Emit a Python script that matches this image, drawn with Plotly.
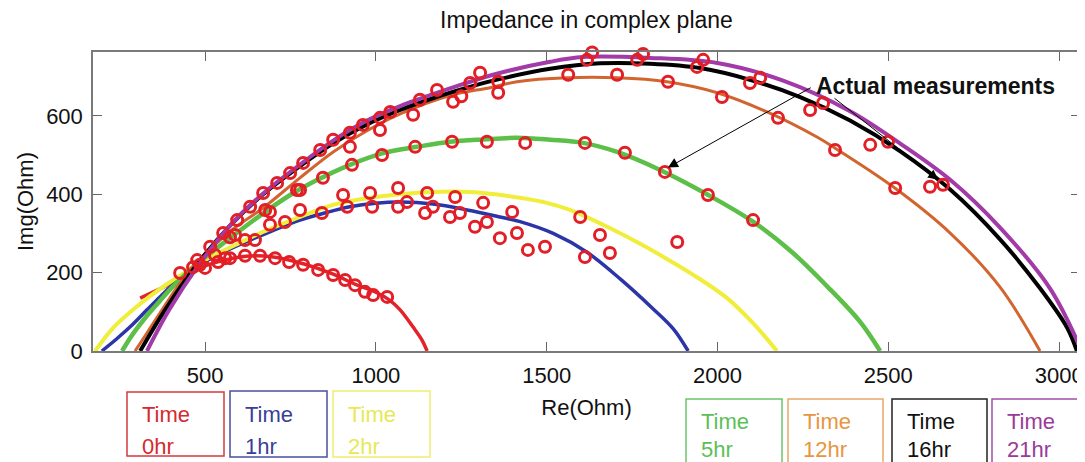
import plotly.graph_objects as go

# ---------------- data ----------------
x_ticks = [500, 1000, 1500, 2000, 2500, 3000]
y_ticks = [0, 200, 400, 600]

series_labels = ["0hr", "1hr", "2hr", "5hr", "12hr", "16hr", "21hr"]

# fitted curves (Re, Img) per series
fit_0hr_re = [310, 390, 465, 540, 620, 700, 790, 875, 940, 1000, 1040, 1071, 1109, 1135, 1150]
fit_0hr_img = [135, 168, 205, 228, 242, 240, 222, 196, 170, 150, 130, 105, 61, 28, 0]

fit_1hr_re = [198, 240, 280, 330, 368, 420, 485, 560, 632, 700, 778, 850, 924, 1000, 1071, 1167,
              1267, 1363, 1422, 1519, 1618, 1715, 1811, 1870, 1914]
fit_1hr_img = [0, 30, 61, 105, 138, 180, 220, 255, 283, 308, 334, 352, 368, 377, 380, 375,
               360, 342, 330, 300, 252, 184, 108, 57, 0]

fit_2hr_re = [178, 231, 289, 339, 398, 440, 485, 540, 602, 660, 720, 800, 875, 974, 1070, 1167,
              1276, 1350, 1422, 1500, 1568, 1665, 1764, 1832, 1928, 2028, 2104, 2174]
fit_2hr_img = [0, 59, 105, 140, 176, 200, 225, 250, 276, 300, 322, 350, 373, 390, 400, 406,
               406, 400, 391, 378, 360, 322, 278, 245, 195, 135, 71, 0]

fit_5hr_re = [257, 290, 330, 365, 406, 480, 573, 660, 749, 816, 924, 1021, 1121, 1217, 1314, 1413,
              1510, 1606, 1706, 1832, 1969, 2104, 2221, 2321, 2417, 2476]
fit_5hr_img = [0, 45, 90, 125, 165, 225, 288, 345, 398, 431, 475, 505, 521, 534, 540, 544,
               539, 531, 508, 462, 400, 330, 250, 165, 75, 0]

fit_12hr_re = [295, 330, 368, 456, 573, 670, 775, 875, 974, 1071, 1217, 1334, 1413, 1560, 1706,
               1852, 1999, 2145, 2291, 2338, 2514, 2681, 2827, 2944]
fit_12hr_img = [0, 46, 97, 207, 305, 365, 440, 508, 562, 605, 652, 672, 687, 697, 697,
                687, 659, 610, 546, 521, 419, 301, 163, 0]

fit_16hr_re = [310, 383, 471, 573, 670, 775, 875, 974, 1071, 1167, 1267, 1343, 1510, 1656, 1803,
               1949, 2095, 2242, 2388, 2534, 2681, 2827, 2944, 3023, 3052]
fit_16hr_img = [0, 105, 215, 320, 400, 470, 530, 578, 615, 645, 672, 690, 720, 734, 733,
                722, 692, 648, 588, 510, 412, 285, 160, 60, 0]

fit_21hr_re = [330, 395, 480, 575, 670, 775, 875, 974, 1071, 1217, 1343, 1510, 1606, 1803, 1999,
               2192, 2388, 2534, 2681, 2827, 2973, 3061]
fit_21hr_img = [0, 105, 218, 322, 402, 474, 537, 588, 625, 670, 705, 738, 750, 748, 735,
                690, 612, 530, 437, 315, 160, 10]

# actual measurements (Re, Img) per series
meas_0hr_re = [465, 500, 538, 573, 617, 661, 705, 746, 787, 831, 875, 910, 939, 968, 992, 1033]
meas_0hr_img = [214, 212, 227, 237, 243, 243, 237, 227, 220, 207, 194, 181, 168, 151, 143, 138]

meas_1hr_re = [559, 646, 734, 842, 916, 989, 1065, 1091, 1144, 1167, 1217, 1246, 1290, 1325,
               1363, 1413, 1445, 1495, 1612]
meas_1hr_img = [237, 283, 329, 352, 368, 368, 368, 380, 352, 368, 342, 352, 317, 329,
                288, 301, 258, 266, 240]

meas_2hr_re = [529, 617, 690, 778, 904, 983, 1065, 1150, 1232, 1314, 1399, 1598, 1656, 1685, 1882]
meas_2hr_img = [245, 283, 322, 360, 398, 403, 416, 403, 393, 378, 355, 342, 296, 250, 278]

meas_5hr_re = [573, 690, 778, 845, 930, 1018, 1115, 1223, 1325, 1437, 1612, 1729, 1846, 1972, 2104]
meas_5hr_img = [290, 355, 411, 442, 475, 500, 521, 534, 534, 531, 531, 506, 457, 398, 334]

meas_12hr_re = [485, 588, 676, 769, 924, 1012, 1109, 1226, 1358, 1563, 1706, 1855, 2013, 2177, 2344, 2520]
meas_12hr_img = [220, 296, 360, 411, 521, 564, 603, 636, 659, 705, 705, 687, 648, 595, 513, 416]

meas_16hr_re = [427, 515, 594, 670, 749, 837, 924, 1012, 1129, 1276, 1250, 1618, 1765, 1940, 2095,
                2271, 2447, 2622]
meas_16hr_img = [199, 266, 334, 403, 454, 513, 557, 595, 641, 684, 650, 743, 743, 725, 684,
                 615, 526, 419]

meas_21hr_re = [477, 553, 632, 711, 787, 875, 962, 1042, 1179, 1305, 1358, 1633, 1782, 1958, 2125,
                2309, 2499, 2660]
meas_21hr_img = [232, 301, 368, 429, 480, 539, 577, 610, 666, 710, 687, 762, 758, 743, 697,
                 633, 534, 424]

# annotation arrows: (tip Re, tip Img, tail Re, tail Img)
arrow_tips_re = [1855, 2646]
arrow_tips_img = [468, 437]
arrow_tails_re = [2277, 2338]
arrow_tails_img = [674, 648]

# ---------------- styling ----------------
FONT = "Liberation Sans, Arial, sans-serif"
line_colors = ["#e3232a", "#2b35a8", "#f0ee3a", "#5cbf48", "#d2652f", "#000000", "#a23aa8"]
text_colors = ["#d42a2e", "#3a3f96", "#e8e855", "#5cbf55", "#e6963e", "#111111", "#9a3a9a"]
box_colors = ["#d43a3e", "#4a4fa0", "#eeee70", "#6cc46a", "#e8a868", "#222222", "#a050a8"]
line_widths = [3.5, 3.5, 4, 4.5, 3, 4, 4]
marker_red = "#e21e26"

fits = [
    (fit_0hr_re, fit_0hr_img), (fit_1hr_re, fit_1hr_img), (fit_2hr_re, fit_2hr_img),
    (fit_5hr_re, fit_5hr_img), (fit_12hr_re, fit_12hr_img), (fit_16hr_re, fit_16hr_img),
    (fit_21hr_re, fit_21hr_img),
]
meas = [
    (meas_0hr_re, meas_0hr_img), (meas_1hr_re, meas_1hr_img), (meas_2hr_re, meas_2hr_img),
    (meas_5hr_re, meas_5hr_img), (meas_12hr_re, meas_12hr_img), (meas_16hr_re, meas_16hr_img),
    (meas_21hr_re, meas_21hr_img),
]

fig = go.Figure()

for i, (xr, yi) in enumerate(fits):
    fig.add_trace(go.Scatter(
        x=xr, y=yi, mode="lines", name="Time " + series_labels[i],
        line=dict(color=line_colors[i], width=line_widths[i], shape="spline", smoothing=1.0),
        hoverinfo="skip", showlegend=False,
    ))

for i, (xr, yi) in enumerate(meas):
    fig.add_trace(go.Scatter(
        x=xr, y=yi, mode="markers", name="meas " + series_labels[i],
        marker=dict(symbol="circle-open", size=11, color=marker_red, line=dict(width=3, color=marker_red)),
        cliponaxis=False, showlegend=False,
    ))

# The page body has an 8px margin, so the figure is drawn 8px right/down of the window corner.
OFF = 8
PIC_W, PIC_H = 1085, 462
W, H = PIC_W - OFF, PIC_H - OFF
# plot-area position in picture pixels (for layout decorations only)
L, R, T, B = 93, 1080, 52, 351


def px(xp):
    return (xp - L) / (R - L)


def py(yp):
    return (B - yp) / (B - T)


annotations = []
for k in range(len(arrow_tips_re)):
    annotations.append(dict(
        x=arrow_tips_re[k], y=arrow_tips_img[k], xref="x", yref="y",
        ax=arrow_tails_re[k], ay=arrow_tails_img[k], axref="x", ayref="y",
        text="", showarrow=True, arrowhead=2, arrowsize=2, arrowwidth=1, arrowcolor="#000000",
    ))
annotations.append(dict(
    x=px(814), y=py(86), xref="paper", yref="paper", xanchor="left", yanchor="middle",
    text="<b>Actual measurements</b>", showarrow=False,
    font=dict(family=FONT, size=23, color="#111111"),
))

# legend-like boxes below the axis
box_specs = [  # left, right, top, bottom, text-line-1 centre, text-line-2 centre
    (127, 224, 392, 456, 414, 446),
    (230, 327, 391, 457, 414, 446),
    (333, 430, 391, 457, 414, 446),
    (686, 782, 399, 475, 421, 449),
    (788, 883, 399, 475, 421, 449),
    (892, 987, 399, 475, 421, 449),
    (992, 1095, 399, 475, 421, 449),
]
shapes = []
for i, (x0, x1, y0, y1, t1, t2) in enumerate(box_specs):
    shapes.append(dict(
        type="rect", xref="paper", yref="paper",
        x0=px(x0), x1=px(x1), y0=py(y1), y1=py(y0),
        line=dict(color=box_colors[i], width=1.5),
        fillcolor="rgba(0,0,0,0)", layer="above",
    ))
    annotations.append(dict(
        x=px(x0 + 13), y=py(t1), xref="paper", yref="paper", xanchor="left", yanchor="middle",
        text="Time", showarrow=False, font=dict(family=FONT, size=22, color=text_colors[i]),
    ))
    annotations.append(dict(
        x=px(x0 + 13), y=py(t2), xref="paper", yref="paper", xanchor="left", yanchor="middle",
        text=series_labels[i], showarrow=False, font=dict(family=FONT, size=22, color=text_colors[i]),
    ))

axis_common = dict(
    ticks="inside", ticklen=9, tickwidth=1.2, tickcolor="#666666",
    showline=True, linecolor="#7a7a7a", linewidth=1.5, mirror="ticks",
    showgrid=False, zeroline=False, automargin=False,
    tickfont=dict(family=FONT, size=22, color="#111111"),
)

fig.update_layout(
    width=W, height=H, autosize=False,
    margin=dict(l=L - OFF, r=W - (R - OFF), t=T - OFF, b=H - (B - OFF), pad=0),
    paper_bgcolor="white", plot_bgcolor="white",
    font=dict(family=FONT, color="#111111"),
    title=dict(text="Impedance in complex plane", x=0.5, xref="paper", xanchor="center",
               y=1 - (20 - OFF) / H, yref="container", yanchor="middle",
               font=dict(family=FONT, size=23, color="#111111")),
    xaxis=dict(range=[172, 3061], tickvals=x_ticks, ticklabelstandoff=4,
               title=dict(text="Re(Ohm)", font=dict(family=FONT, size=22, color="#111111"), standoff=12),
               **axis_common),
    yaxis=dict(range=[0, 763], tickvals=y_ticks, ticklabelstandoff=4,
               title=dict(text="Img(Ohm)", font=dict(family=FONT, size=22, color="#111111"), standoff=6),
               **axis_common),
    shapes=shapes,
    annotations=annotations,
    showlegend=False,
)

fig.write_html("out.html")
